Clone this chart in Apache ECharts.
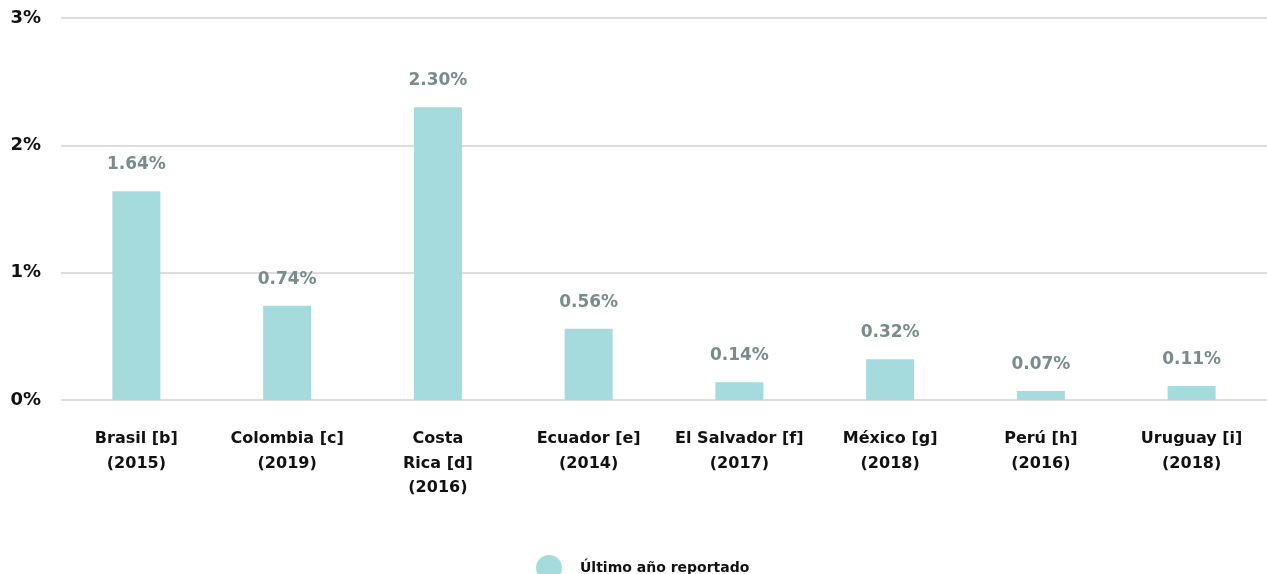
<!DOCTYPE html>
<html>
<head>
<meta charset="utf-8">
<script src="https://cdn.jsdelivr.net/npm/echarts@6/dist/echarts.min.js"></script>
<style>
  html, body { margin: 0; padding: 0; background: #fff; }
  #chart { width: 1267px; height: 574px; }
</style>
</head>
<body>
<div id="chart"></div>
<script>
  // datos
  const countries = ['Brasil [b]', 'Colombia [c]', 'Costa\nRica [d]', 'Ecuador [e]', 'El Salvador [f]', 'México [g]', 'Perú [h]', 'Uruguay [i]']
  const years = ['2015', '2019', '2016', '2014', '2017', '2018', '2016', '2018']
  const values = [1.64, 0.74, 2.30, 0.56, 0.14, 0.32, 0.07, 0.11]
  const yTicks = [0, 1, 2, 3]

  const categories = countries.map((c, i) => c + '\n(' + years[i] + ')')

  let myChart = echarts.init(document.getElementById('chart'))
  let font = '"DejaVu Sans", sans-serif'
  let option = {
    animation: false,
    grid: {
      left: 61,
      width: 1214,
      top: 18,
      height: 382,
      containLabel: false
    },
    legend: {
      data: ['Último año reportado'],
      top: 550,
      left: 531,
      icon: 'circle',
      itemWidth: 26,
      itemHeight: 26,
      itemGap: 10,
      textStyle: {
        fontFamily: font,
        fontWeight: 'bold',
        fontSize: 14,
        color: '#111',
        padding: [4, 0, 0, 13]
      }
    },
    xAxis: {
      type: 'category',
      data: categories,
      axisLine: { show: false },
      axisTick: { show: false },
      axisLabel: {
        interval: 0,
        margin: 27,
        fontFamily: font,
        fontWeight: 'bold',
        fontSize: 16,
        lineHeight: 24.5,
        color: '#111'
      }
    },
    yAxis: {
      type: 'value',
      min: yTicks[0],
      max: yTicks[yTicks.length - 1],
      interval: 1,
      axisLine: { show: false },
      axisTick: { show: false },
      splitLine: { lineStyle: { color: '#dddddd', width: 2 } },
      axisLabel: {
        margin: 20,
        fontFamily: font,
        fontWeight: 'bold',
        fontSize: 18,
        color: '#111',
        formatter: v => v + '%'
      }
    },
    series: [
      {
        name: 'Último año reportado',
        type: 'bar',
        barWidth: 48,
        color: '#a6dbdd',
        data: values,
        label: {
          show: true,
          position: 'top',
          distance: 18,
          fontFamily: font,
          fontWeight: 'bold',
          fontSize: 17,
          color: '#778c8b',
          formatter: p => p.value.toFixed(2) + '%'
        }
      }
    ]
  }
  myChart.setOption(option)
</script>
</body>
</html>
